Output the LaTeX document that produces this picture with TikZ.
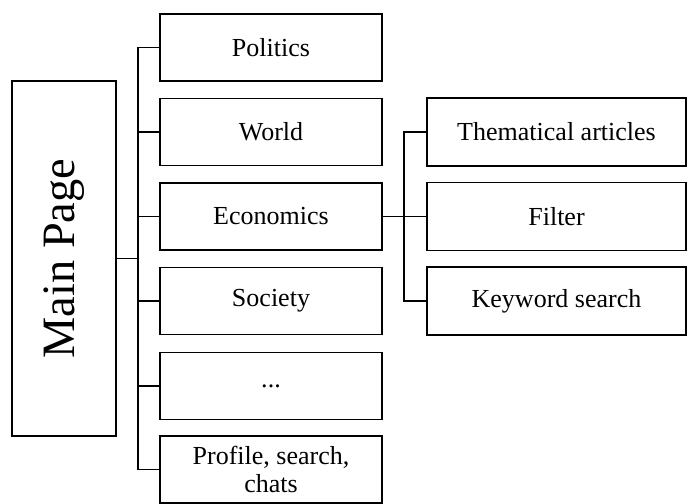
\documentclass[tikz,border=0pt]{standalone}
\usepackage{fontspec}
\setmainfont{Liberation Serif}

\begin{document}
\begin{tikzpicture}[line width=0.9pt,
  item/.style={draw,minimum width=5.55cm,minimum height=1.675cm,inner sep=2pt,align=center,font=\fontsize{18.5}{19.5}\selectfont},
  sub/.style={item,minimum width=6.475cm,minimum height=1.7cm}]

  \useasboundingbox (0,0) rectangle (17.2,12.575);

  \node[draw,minimum width=2.6cm,minimum height=8.875cm] (main) at (1.6,6.1125){};
  \node[rotate=90,font=\fontsize{33}{36}\selectfont] at (main.center){Main Page};

  \node[item] (pol) at (6.775,11.3875){Politics};
  \node[item] (wor) at (6.775,9.275){World};
  \node[item] (eco) at (6.775,7.1625){Economics};
  \node[item] (soc) at (6.775,5.05){Society};
  \node[item] (dots) at (6.775,2.925){...};
  \node[item] (prof) at (6.775,0.8375){Profile, search,\\chats};

  \node[sub] (them) at (13.9125,9.275){Thematical articles};
  \node[sub] (fil) at (13.9125,7.1625){Filter};
  \node[sub] (key) at (13.9125,5.05){Keyword search};

  \coordinate (ltrunk) at (3.45,0);
  \coordinate (rtrunk) at (10.1,0);

  \draw (main.east)--(main.east -| ltrunk);
  \draw (pol.west)-|(prof.west -| ltrunk)--(prof.west);
  \foreach \n in {wor,eco,soc,dots} \draw (\n.west)--(\n.west -| ltrunk);

  \draw (eco.east)--(fil.west);
  \draw (them.west)-|(key.west -| rtrunk)--(key.west);

\end{tikzpicture}
\end{document}
